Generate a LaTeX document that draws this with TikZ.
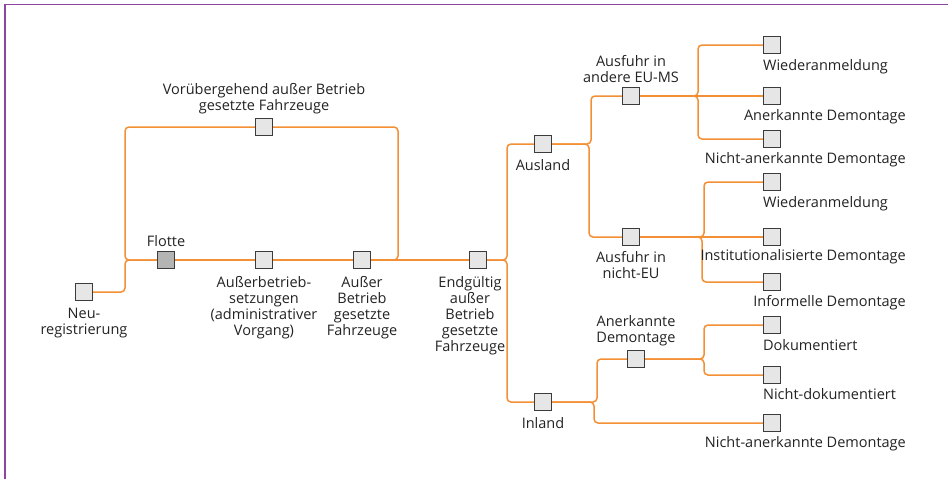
\documentclass[tikz,border=0pt]{standalone}
\usepackage{fontspec}
\setmainfont{Open Sans}
\usetikzlibrary{positioning, calc}
\definecolor{linie}{RGB}{243,144,54}
\definecolor{rahmen}{RGB}{142,68,160}
\definecolor{boxgrau}{RGB}{230,230,230}
\definecolor{flottegrau}{RGB}{180,180,180}
\definecolor{boxrand}{RGB}{60,60,60}
\definecolor{schrift}{RGB}{35,35,35}
\tikzset{
  box/.style={rectangle, draw=boxrand, fill=boxgrau, line width=1.2pt, minimum size=17pt, inner sep=0pt},
  txt/.style={text=schrift, font=\fontsize{14.5}{16}\selectfont, align=center, inner sep=2pt},
  link/.style={draw=linie, line width=1.5pt, rounded corners=4pt},
}
\begin{document}
\begin{tikzpicture}[x=1pt,y=-1pt]
    \useasboundingbox (0,0) rectangle (948,479);
    \draw[rahmen, line width=1.5pt] (948,4.5) -- (5,4.5) -- (5,479);
    % Kaestchen
    \node[box] (neu) at (84,292) {};
    \node[box, fill=flottegrau] (flotte) at (166,260) {};
    \node[box] (abs) at (264,260) {};
    \node[box] (ab) at (362,260) {};
    \node[box] (vor) at (264,127) {};
    \node[box] (eg) at (478,260) {};
    \node[box] (ausl) at (543,144) {};
    \node[box] (inl) at (543,402) {};
    \node[box] (eu) at (631,96) {};
    \node[box] (dritt) at (631,237) {};
    \node[box] (anerk) at (636,359) {};
    \node[box] (w1) at (772,45) {};
    \node[box] (ad1) at (772,96) {};
    \node[box] (na1) at (772,139) {};
    \node[box] (w2) at (772,182) {};
    \node[box] (inst) at (772,237) {};
    \node[box] (inf) at (772,282) {};
    \node[box] (dok) at (772,325) {};
    \node[box] (ndok) at (772,375) {};
    \node[box] (na2) at (772,423) {};
    % Verbindungen
    \draw[link] (neu.east) -- (125,292) |- (flotte.west);
    \draw[link] (flotte.west) -- (125,260) |- (vor.west);
    \draw[link] (flotte) -- (abs);
    \draw[link] (abs) -- (ab);
    \draw[link] (ab.east) -- (398,260) |- (vor.east);
    \draw[link] (ab) -- (eg);
    \draw[link] (eg.east) -- (507,260) |- (ausl.west);
    \draw[link] (eg.east) -- (507,260) |- (inl.west);
    \draw[link] (ausl.east) -- (591,144) |- (eu.west);
    \draw[link] (ausl.east) -- (589,144) |- (dritt.west);
    \draw[link] (inl.east) -- (597,402) |- (anerk.west);
    \draw[link] (inl.east) -- (594,402) |- (na2.west);
    \draw[link] (eu.east) -- (698,96) |- (w1.west);
    \draw[link] (eu) -- (ad1);
    \draw[link] (eu.east) -- (698,96) |- (na1.west);
    \draw[link] (dritt.east) -- (704,237) |- (w2.west);
    \draw[link] (dritt) -- (inst);
    \draw[link] (dritt.east) -- (702,237) |- (inf.west);
    \draw[link] (anerk.east) -- (704,359) |- (dok.west);
    \draw[link] (anerk.east) -- (704,359) |- (ndok.west);
    % Beschriftungen
    \node[txt, below=5pt of neu] (neu-t) {Neu-\\registrierung};
    \node[txt, above=2.5pt of flotte] (flotte-t) {Flotte};
    \node[txt, below=5pt of abs] (abs-t) {Außerbetrieb-\\setzungen\\(administrativer\\Vorgang)};
    \node[txt, below=5pt of ab] (ab-t) {Außer\\Betrieb\\gesetzte\\Fahrzeuge};
    \node[txt, above=2pt of vor] (vor-t) {Vorübergehend außer Betrieb\\gesetzte Fahrzeuge};
    \node[txt, below=5pt of eg, xshift=-8pt] (eg-t) {Endgültig\\außer\\Betrieb\\gesetzte\\Fahrzeuge};
    \node[txt, below=4pt of ausl] (ausl-t) {Ausland};
    \node[txt, below=4pt of inl] (inl-t) {Inland};
    \node[txt, above=2pt of eu] (eu-t) {Ausfuhr in\\andere EU-MS};
    \node[txt, below=3pt of dritt] (dritt-t) {Ausfuhr in\\nicht-EU};
    \node[txt, above=2pt of anerk] (anerk-t) {Anerkannte\\Demontage};
    \node[txt, anchor=north west] (w1-t) at ([xshift=-2pt,yshift=-3pt]w1.south west) {Wiederanmeldung};
    \node[txt, anchor=north east] (ad1-t) at ([xshift=136pt,yshift=-2pt]ad1.south) {Anerkannte Demontage};
    \node[txt, anchor=north east] (na1-t) at ([xshift=136pt,yshift=-2pt]na1.south) {Nicht-anerkannte Demontage};
    \node[txt, anchor=north west] (w2-t) at ([xshift=-2pt,yshift=-3pt]w2.south west) {Wiederanmeldung};
    \node[txt, anchor=north east] (inst-t) at ([xshift=136pt,yshift=-1pt]inst.south) {Institutionalisierte Demontage};
    \node[txt, anchor=north east] (inf-t) at ([xshift=136pt,yshift=-2.5pt]inf.south) {Informelle Demontage};
    \node[txt, anchor=north west] (dok-t) at ([xshift=-2pt,yshift=-3.5pt]dok.south west) {Dokumentiert};
    \node[txt, anchor=north west] (ndok-t) at ([xshift=-2pt,yshift=-2.5pt]ndok.south west) {Nicht-dokumentiert};
    \node[txt, anchor=north east] (na2-t) at ([xshift=136pt,yshift=-2pt]na2.south) {Nicht-anerkannte Demontage};
\end{tikzpicture}
\end{document}
